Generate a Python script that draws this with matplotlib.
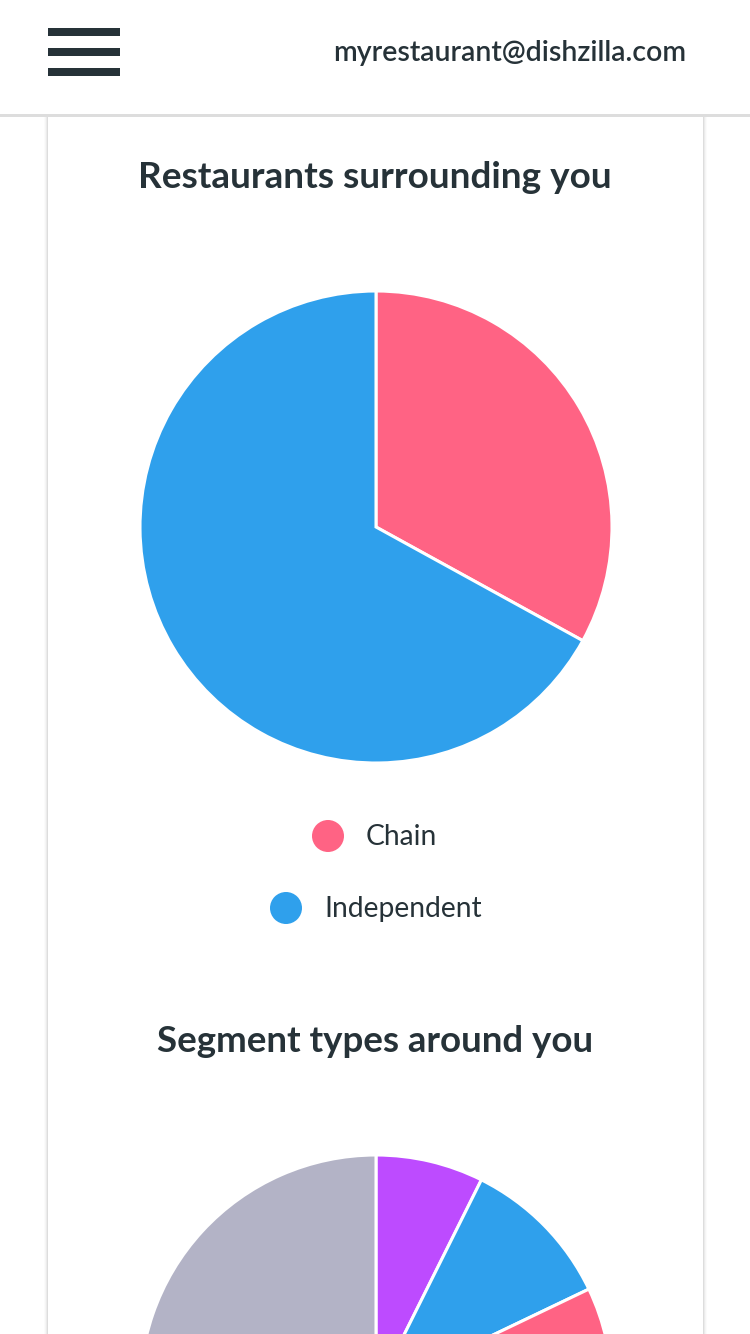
import matplotlib
matplotlib.use("Agg")
import matplotlib.pyplot as plt
from matplotlib.patches import Rectangle, Circle

plt.rcParams['font.family'] = ['Lato', 'DejaVu Sans']

# ---- data ----
user_email = "myrestaurant@dishzilla.com"

title1 = "Restaurants surrounding you"
labels1 = ["Chain", "Independent"]
values1 = [33, 67]
colors1 = ["#FF6384", "#2FA0EC"]

title2 = "Segment types around you"
labels2 = ["Fine dining", "Casual", "Fast food", "Cafe", "Bar", "Other"]
values2 = [7, 10, 14, 18, 21, 25]
colors2 = ["#BD4BFF", "#2FA0EC", "#FF6384", "#FFCE56", "#4BC0C0", "#B3B3C6"]

W, H = 750, 1334
dark = "#263238"

fig = plt.figure(figsize=(W / 100, H / 100), dpi=100)
fig.patch.set_facecolor("white")

# background axes in pixel coordinates (y down)
bg = fig.add_axes([0, 0, 1, 1])
bg.set_xlim(0, W)
bg.set_ylim(H, 0)
bg.axis("off")

# card with soft shadow
for i, a in enumerate([0.015, 0.025, 0.04, 0.06]):
    d = 4 - i
    bg.add_patch(Rectangle((48 - d, 116), 655 + 2 * d, H, color="#000000", alpha=a, lw=0))
bg.add_patch(Rectangle((48, 116), 655, H, color="white", lw=0))

# header
bg.add_patch(Rectangle((0, 0), W, 114, color="white", lw=0))
bg.add_patch(Rectangle((0, 114), W, 2.5, color="#DDDDDD", lw=0))
for y in [28, 48, 68]:
    bg.add_patch(Rectangle((48, y), 72, 8, color=dark, lw=0))
bg.text(686, 53, user_email, ha="right", va="center", fontsize=20.5,
        fontweight="semibold", color=dark)


def pie_axes(cx, cy, r):
    ax = fig.add_axes([(cx - r) / W, (H - cy - r) / H, 2 * r / W, 2 * r / H])
    ax.axis("off")
    return ax


def draw_pie(ax, values, colors):
    ax.pie(values, colors=colors, startangle=90, counterclock=False, radius=1,
           wedgeprops=dict(edgecolor="white", linewidth=2.2))
    ax.set_xlim(-1, 1)
    ax.set_ylim(-1, 1)


# chart 1
bg.text(375, 178, title1, ha="center", va="center", fontsize=26.6,
        fontweight="bold", color=dark)
ax1 = pie_axes(376, 527, 236)
draw_pie(ax1, values1, colors1)

legend_pos = [(328, 366, 836), (286, 324, 908)]
for (mx, tx, y), lab, col in zip(legend_pos, labels1, colors1):
    bg.add_patch(Circle((mx, y), 16, color=col, lw=0))
    bg.text(tx, y + 1, lab, ha="left", va="center", fontsize=20.3, color=dark)

# chart 2
bg.text(375, 1042, title2, ha="center", va="center", fontsize=26.4,
        fontweight="bold", color=dark)
ax2 = pie_axes(376, 1391, 236)
draw_pie(ax2, values2, colors2)

fig.savefig("out.png", dpi=100, facecolor="white")
